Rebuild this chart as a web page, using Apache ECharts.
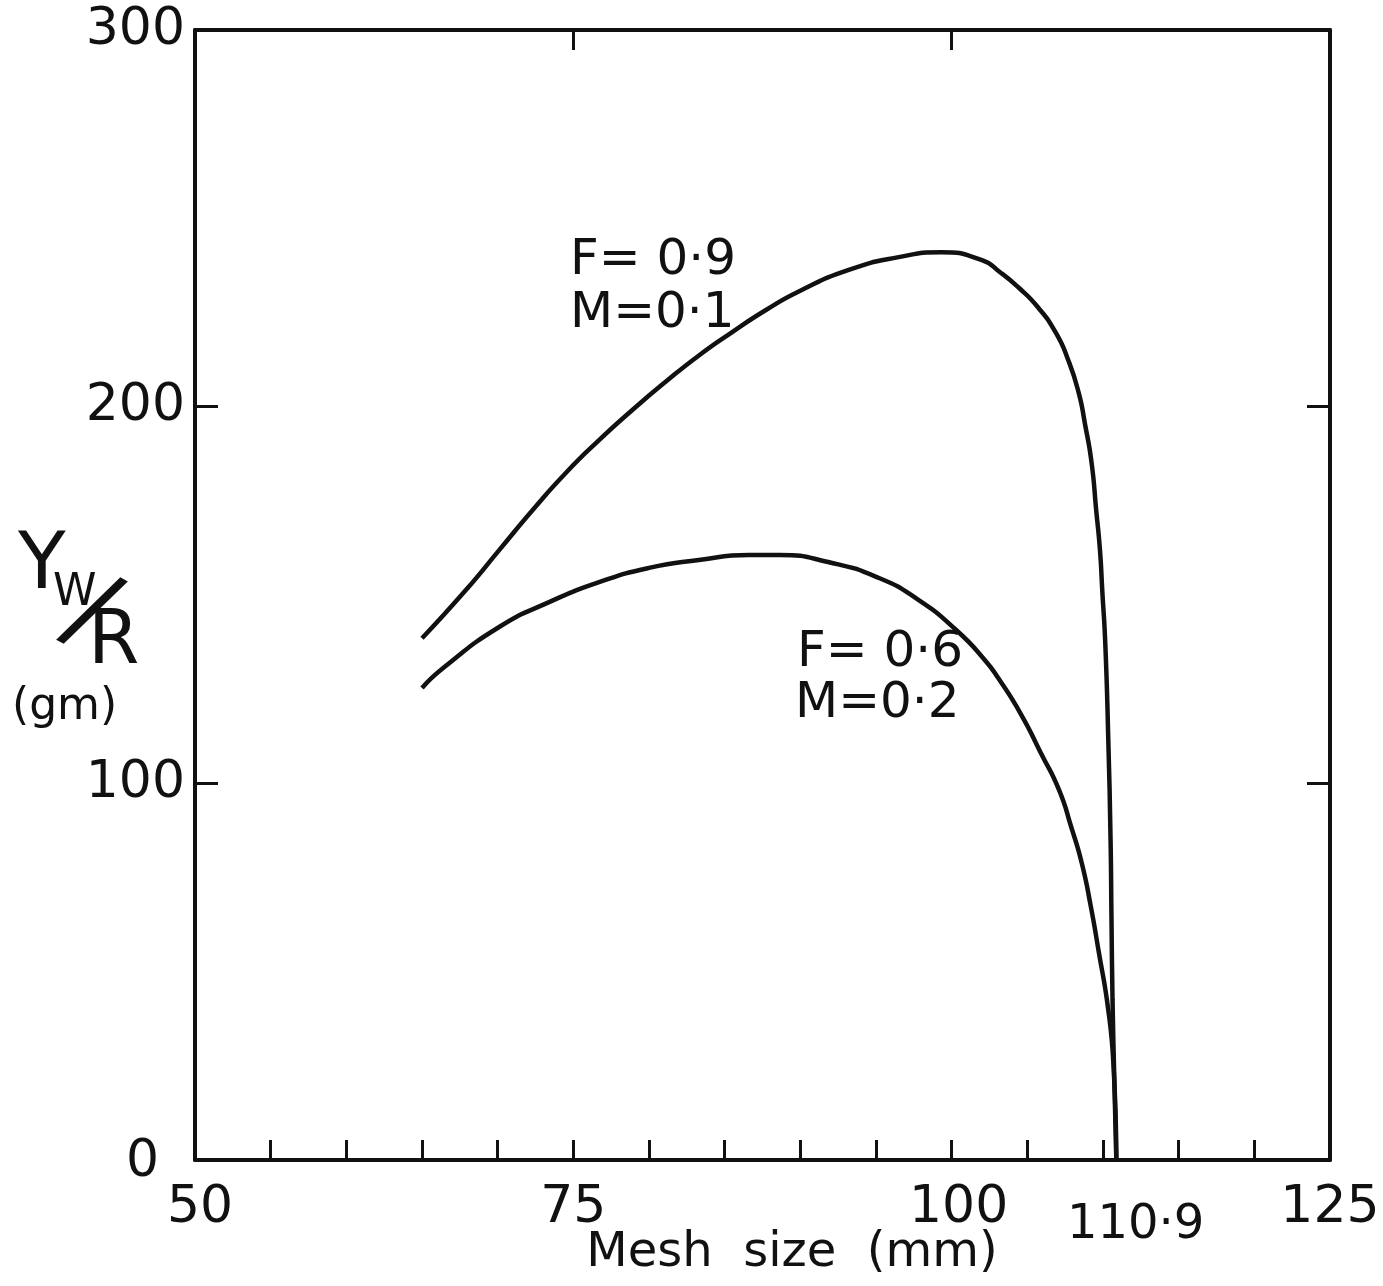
<!DOCTYPE html>
<html>
<head>
<meta charset="utf-8">
<script src="https://cdn.jsdelivr.net/npm/echarts@6/dist/echarts.min.js"></script>
<style>
html,body{margin:0;padding:0;background:#fff;}
#c{width:1383px;height:1286px;}
</style>
</head>
<body>
<div id="c"></div>
<script>
// ---- data ----
var upperX = [65.0, 67.9, 70.1, 72.3, 74.5, 76.7, 78.9, 81.1, 83.3, 85.5, 87.7, 89.9, 93.2, 96.5, 99.3, 102.0, 103.2, 104.4, 105.7, 106.9, 107.7, 108.4, 108.8, 109.25, 109.55, 109.8, 109.95, 110.15, 110.35, 110.5, 110.56, 110.63, 110.75, 110.88];
var upperY = [138.5, 151.3, 161.9, 172.5, 182.4, 191.1, 199.1, 206.6, 213.6, 219.8, 225.6, 230.6, 236.3, 239.7, 241.0, 238.9, 235.7, 231.7, 226.4, 219.5, 212.4, 203.6, 195.6, 185.0, 172.5, 161.9, 151.3, 137.2, 111.5, 85, 64.5, 42.5, 21, 0];
var lowerX = [65.0, 66.4, 70.1, 73.4, 76.7, 80.0, 83.3, 86.6, 88.6, 91.9, 95.2, 97.8, 100.3, 102.2, 103.1, 104.6, 105.9, 107.1, 107.9, 108.6, 109.2, 109.7, 110.35, 110.7, 110.88];
var lowerY = [125.3, 130.6, 141.5, 148.1, 153.4, 157.2, 159.3, 160.6, 160.6, 158.7, 154.5, 148.7, 140.7, 132.7, 127.8, 118.2, 108.0, 98.2, 88.4, 78.8, 67.2, 55.7, 39.8, 24.7, 0];
var xLabelValues = [50, 75, 100, 110.9, 125];
var xBottomTicks = [55, 60, 65, 70, 75, 80, 85, 90, 95, 100, 105, 110, 115, 120];
var xTopTicks = [75, 100];
var yTicks = [100, 200];
var xTitle = 'Mesh  size  (mm)';
var curveLabels = [
  {lines: ['F= 0·9', 'M=0·1']},
  {lines: ['F= 0·6', 'M=0·2']}
];

function zip(xs, ys){ return xs.map(function(x,i){ return [x, ys[i]]; }); }

var FONT = 'DejaVu Sans';
var INK = '#111';
var LBL = 52;

var chart = echarts.init(document.getElementById('c'));
var option = {
  backgroundColor: '#fff',
  animation: false,
  grid: {left: 195, top: 30, right: 53, bottom: 126, containLabel: false, outerBoundsMode: 'none'},
  xAxis: [{
    type: 'value', min: 50, max: 125, position: 'bottom',
    splitLine: {show: false},
    axisLine: {show: true, lineStyle: {color: INK, width: 4}},
    axisTick: {show: true, inside: true, length: 20, customValues: xBottomTicks, lineStyle: {color: INK, width: 3}},
    axisLabel: {
      show: true, customValues: xLabelValues, margin: 22, color: INK,
      fontFamily: FONT, fontSize: LBL,
      formatter: function(v){
        if (Math.abs(v - 110.9) < 0.01) return '{b|110·9}';
        if (v === 50) return '{a|50}';
        if (v === 100) return '{c|100}';
        return String(v);
      },
      rich: {
        a: {fontFamily: FONT, fontSize: LBL, color: INK, padding: [0, 0, 0, 10]},
        b: {fontFamily: FONT, fontSize: 48, color: INK, padding: [20, 0, 0, 38]},
        c: {fontFamily: FONT, fontSize: LBL, color: INK, padding: [0, 0, 0, 14]}
      }
    }
  }, {
    type: 'value', min: 50, max: 125, position: 'top',
    splitLine: {show: false},
    axisLine: {show: true, onZero: false, lineStyle: {color: INK, width: 4}},
    axisTick: {show: true, inside: true, length: 20, customValues: xTopTicks, lineStyle: {color: INK, width: 3}},
    axisLabel: {show: false}
  }],
  yAxis: [{
    type: 'value', min: 0, max: 300, interval: 100, position: 'left',
    splitLine: {show: false},
    axisLine: {show: true, onZero: false, lineStyle: {color: INK, width: 4}},
    axisTick: {show: true, inside: true, length: 23, customValues: yTicks, lineStyle: {color: INK, width: 3}},
    axisLabel: {
      show: true, margin: 10, color: INK, fontFamily: FONT, fontSize: LBL,
      formatter: function(v){ return v === 0 ? '{z|0}' : String(v); },
      rich: {z: {fontFamily: FONT, fontSize: LBL, color: INK, padding: [4, 26, 0, 0]}}
    }
  }, {
    type: 'value', min: 0, max: 300, interval: 100, position: 'right',
    splitLine: {show: false},
    axisLine: {show: true, onZero: false, lineStyle: {color: INK, width: 4}},
    axisTick: {show: true, inside: true, length: 23, customValues: yTicks, lineStyle: {color: INK, width: 3}},
    axisLabel: {show: false}
  }],
  series: [{
    type: 'line', name: 'F=0.9 M=0.1', xAxisIndex: 0, yAxisIndex: 0,
    data: zip(upperX, upperY), showSymbol: false, smooth: 0.55,
    lineStyle: {color: INK, width: 4.5}
  }, {
    type: 'line', name: 'F=0.6 M=0.2', xAxisIndex: 0, yAxisIndex: 0,
    data: zip(lowerX, lowerY), showSymbol: false, smooth: 0.55,
    lineStyle: {color: INK, width: 4.5}
  }],
  graphic: [
    {type: 'text', x: 792, y: 1254, style: {text: xTitle, fontFamily: FONT, fontSize: 48, fill: INK, textAlign: 'center', textVerticalAlign: 'middle'}},
    {type: 'text', x: 570, y: 261, style: {text: curveLabels[0].lines[0], fontFamily: FONT, fontSize: 50, fill: INK, textAlign: 'left', textVerticalAlign: 'middle'}},
    {type: 'text', x: 570, y: 314, style: {text: curveLabels[0].lines[1], fontFamily: FONT, fontSize: 50, fill: INK, textAlign: 'left', textVerticalAlign: 'middle'}},
    {type: 'text', x: 797, y: 653, style: {text: curveLabels[1].lines[0], fontFamily: FONT, fontSize: 50, fill: INK, textAlign: 'left', textVerticalAlign: 'middle'}},
    {type: 'text', x: 795, y: 704, style: {text: curveLabels[1].lines[1], fontFamily: FONT, fontSize: 50, fill: INK, textAlign: 'left', textVerticalAlign: 'middle'}},
    // y-axis title  Yw/R (gm)
    {type: 'text', x: 18, y: 568, style: {text: 'Y', fontFamily: FONT, fontSize: 78, fill: INK, textAlign: 'left', textVerticalAlign: 'middle'}},
    {type: 'text', x: 53, y: 594, style: {text: 'W', fontFamily: FONT, fontSize: 44, fill: INK, textAlign: 'left', textVerticalAlign: 'middle'}},
    {type: 'text', x: 89, y: 616, rotation: -0.5, style: {text: '/', fontFamily: FONT, fontSize: 104, fill: INK, textAlign: 'center', textVerticalAlign: 'middle'}},
    {type: 'text', x: 88, y: 644, style: {text: 'R', fontFamily: FONT, fontSize: 74, fill: INK, textAlign: 'left', textVerticalAlign: 'middle'}},
    {type: 'text', x: 12, y: 708, style: {text: '(gm)', fontFamily: FONT, fontSize: 44, fill: INK, textAlign: 'left', textVerticalAlign: 'middle'}}
  ]
};
chart.setOption(option);
</script>
</body>
</html>
